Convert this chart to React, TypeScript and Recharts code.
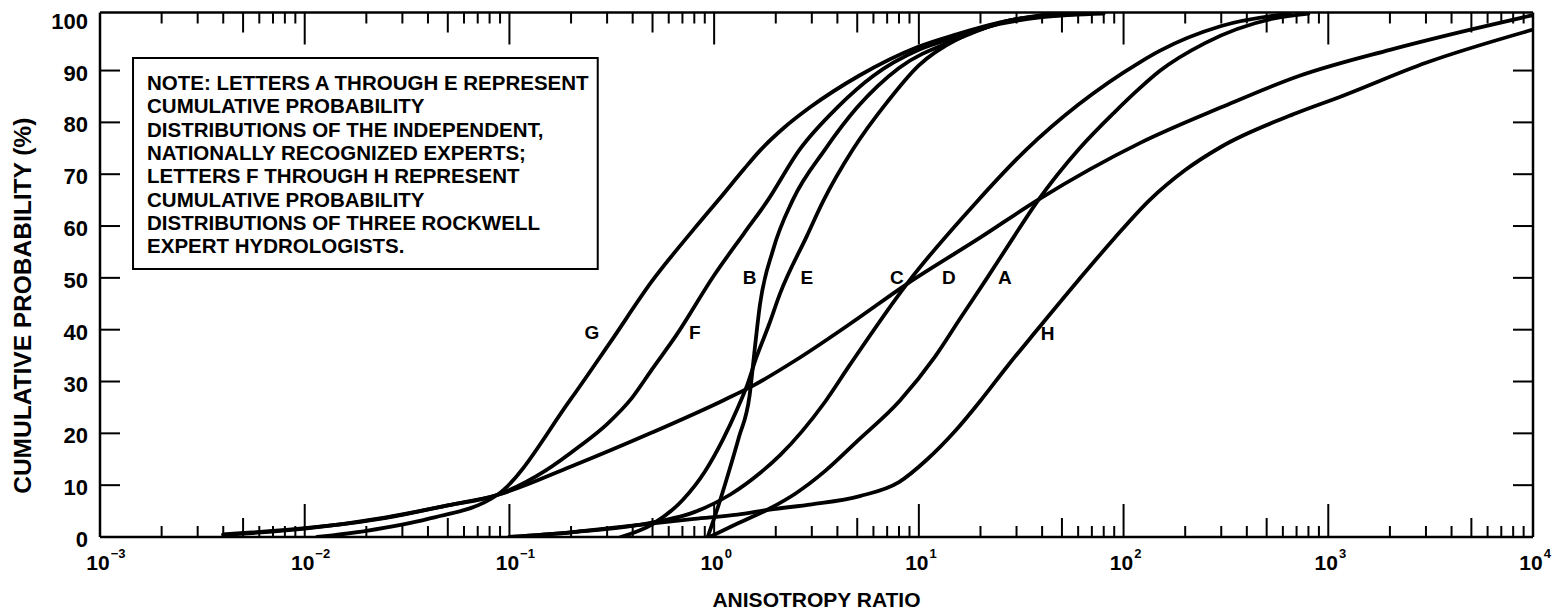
import React from "react";
import {
  LineChart,
  Line,
  XAxis,
  YAxis,
  ReferenceArea,
  ReferenceDot,
} from "recharts";

type Pt = [number, number];

// [anisotropy ratio, cumulative probability %]
const curveA: Pt[] = [
  [0.95, 0], [1.3, 2.6], [1.87, 5.5], [2.5, 8.4], [3.5, 12.8], [5, 18.5],
  [8.07, 26.3], [12, 34.8], [16, 42.3], [21.4, 49.8], [28, 56.9], [38, 64.8],
  [61, 75], [90, 81.9], [120, 86.6], [150, 89.9], [250, 95.3], [536, 100],
  [800, 101],
];
const curveB: Pt[] = [
  [0.93, 0], [1.05, 6.1], [1.18, 12.6], [1.32, 19.2], [1.49, 27.3],
  [1.58, 36.4], [1.67, 44.5], [1.94, 55.4], [2.42, 65], [3.47, 74.7],
  [5, 82.9], [8, 90.5], [15.3, 96], [30, 99.9], [70, 101],
];
const curveC: Pt[] = [
  [0.1, 0], [0.2, 0.9], [0.42, 2.3], [0.8, 4.8], [1.2, 8.2], [1.67, 12.3],
  [2.1, 15.8], [3.47, 26], [4.6, 33.2], [8.8, 49], [19.2, 64.7],
  [33.6, 74.8], [60, 83.4], [120, 91.6], [150, 93.8], [300, 98.6], [650, 101],
];
const curveD: Pt[] = [
  [0.004, 0.5], [0.01, 1.7], [0.025, 3.7], [0.05, 6.1], [0.087, 8.1],
  [0.2, 13.6], [0.5, 20.2], [1.1, 26.3], [1.55, 29.2], [2.5, 34.1],
  [4.6, 41.1], [8.8, 48.9], [20, 57.8], [38, 65], [120, 76], [300, 82.9],
  [724, 89], [2000, 94], [5070, 98], [10000, 100.7],
];
const curveE: Pt[] = [
  [0.35, 0], [0.5, 2.5], [0.7, 7.1], [0.9, 12.6], [1.1, 18.7], [1.3, 24.8],
  [1.45, 29.3], [1.6, 34.4], [1.85, 40.9], [2.1, 47], [2.84, 58.1],
  [3.4, 64.7], [4.75, 74.7], [7, 83.9], [10, 91], [15.3, 96], [40, 100.3],
  [80, 101],
];
const curveF: Pt[] = [
  [0.004, 0.4], [0.01, 1.6], [0.025, 3.8], [0.05, 6.1], [0.087, 8.1],
  [0.15, 12.8], [0.22, 17.5], [0.3, 21.8], [0.396, 26.8], [0.5, 32.5],
  [0.65, 38.8], [1.0, 50.5], [1.4, 58.6], [1.81, 64.7], [2.62, 74.8],
  [4, 82.9], [6, 89], [10, 94], [15.3, 96.4], [30, 99.9], [60, 101],
];
const curveG: Pt[] = [
  [0.0115, 0], [0.02, 1.2], [0.04, 3.5], [0.087, 8.1],
  [0.197, 26.3], [0.31, 37.5], [0.5, 49.5], [0.8, 59.5], [1.1, 66],
  [1.4, 71], [1.67, 74.5], [2.2, 79], [2.94, 82.9], [5.1, 89], [9.8, 94.5],
  [15.3, 97], [25, 99.3], [45, 101],
];
const curveH: Pt[] = [
  [0.1, 0], [0.2, 0.9], [0.42, 2.3], [0.8, 3.5], [1.3, 4.3], [1.87, 5.3],
  [3, 6.3], [5.15, 7.9], [8, 10.6], [11, 15], [15, 20.4], [20, 26.3],
  [27, 32.9], [36.8, 39.4], [60, 49.5], [90, 57.6], [134, 65], [200, 70.8],
  [300, 75.3], [700, 81.8], [1138, 84.9], [3000, 91.5], [10000, 97.9],
];

const series = [
  { name: "A", pts: curveA },
  { name: "B", pts: curveB },
  { name: "C", pts: curveC },
  { name: "D", pts: curveD },
  { name: "E", pts: curveE },
  { name: "F", pts: curveF },
  { name: "G", pts: curveG },
  { name: "H", pts: curveH },
];

// where each letter sits (data coords)
const curveLabels = [
  { name: "G", x: 0.253, y: 39.6 },
  { name: "F", x: 0.805, y: 39.6 },
  { name: "B", x: 1.49, y: 50.2 },
  { name: "E", x: 2.84, y: 50.2 },
  { name: "C", x: 7.8, y: 50.2 },
  { name: "D", x: 14.0, y: 50.2 },
  { name: "A", x: 26.3, y: 50.2 },
  { name: "H", x: 42.6, y: 39.4 },
];

const decadeExps = [-3, -2, -1, 0, 1, 2, 3, 4];
const minorSteps = [2, 3, 4, 5, 6, 7, 8, 9];
const xTicks = decadeExps.flatMap((e) =>
  e < 4
    ? [Math.pow(10, e), ...minorSteps.map((m) => m * Math.pow(10, e))]
    : [Math.pow(10, e)]
);
const yTicks = [0, 10, 20, 30, 40, 50, 60, 70, 80, 90, 100];

const noteLines = [
  "NOTE: LETTERS A THROUGH E REPRESENT",
  "CUMULATIVE PROBABILITY",
  "DISTRIBUTIONS OF THE INDEPENDENT,",
  "NATIONALLY RECOGNIZED EXPERTS;",
  "LETTERS F THROUGH H REPRESENT",
  "CUMULATIVE PROBABILITY",
  "DISTRIBUTIONS OF THREE ROCKWELL",
  "EXPERT HYDROLOGISTS.",
];

const FONT = "'Liberation Sans', Arial, Helvetica, sans-serif";
const X_DOMAIN: [number, number] = [0.001, 10000];
const Y_DOMAIN: [number, number] = [0, 101.2];

function splitTick(v: number) {
  const e = Math.floor(Math.log10(v) + 1e-9);
  const m = Math.round(v / Math.pow(10, e));
  return { e, m };
}

const BottomTick = (props: any) => {
  const { x, y, payload } = props;
  const { e, m } = splitTick(payload.value);
  const len = m === 1 ? 33 : m === 5 ? 19 : 11;
  const onEdge = m === 1 && (e === -3 || e === 4);
  return (
    <g>
      {!onEdge && (
        <line x1={x} x2={x} y1={y} y2={y - len} stroke="#000" strokeWidth={2} />
      )}
      {m === 1 && (
        <text
          x={x - 13.7}
          y={y + 33}
          fontFamily={FONT}
          fontWeight="bold"
          fontSize={21}
          fill="#000"
        >
          10
          <tspan dx={1} dy={-12} fontSize={13}>
            {e < 0 ? "\u2212" + -e : String(e)}
          </tspan>
        </text>
      )}
    </g>
  );
};

const TopTick = (props: any) => {
  const { x, y, payload } = props;
  const { e, m } = splitTick(payload.value);
  const len = m === 1 ? 32 : m === 5 ? 20 : 11;
  if (m === 1 && (e === -3 || e === 4)) return <g />;
  return <line x1={x} x2={x} y1={y} y2={y + len} stroke="#000" strokeWidth={2} />;
};

const LeftTick = (props: any) => {
  const { x, y, payload } = props;
  const v = payload.value;
  return (
    <g>
      {v > 0 && v < 100 && (
        <line x1={x} x2={x + 20} y1={y} y2={y} stroke="#000" strokeWidth={2} />
      )}
      <text
        x={x - 12}
        y={y + 10}
        textAnchor="end"
        fontFamily={FONT}
        fontWeight="bold"
        fontSize={22}
        fill="#000"
      >
        {v}
      </text>
    </g>
  );
};

const RightTick = (props: any) => {
  const { x, y, payload } = props;
  const v = payload.value;
  if (v <= 0 || v >= 100) return <g />;
  return <line x1={x} x2={x - 20} y1={y} y2={y} stroke="#000" strokeWidth={2} />;
};

const YTitle = (props: any) => {
  const vb = props.viewBox || { x: 0, y: 12.5, width: 100, height: 524.5 };
  const cx = vb.x + 22;
  const cy = vb.y + vb.height / 2 + 31;
  return (
    <text
      x={cx}
      y={cy}
      transform={`rotate(-90, ${cx}, ${cy})`}
      textAnchor="middle"
      dominantBaseline="central"
      fontFamily={FONT}
      fontWeight="bold"
      fontSize={24.5}
      fill="#000"
    >
      CUMULATIVE PROBABILITY (%)
    </text>
  );
};

const XTitle = (props: any) => {
  const vb = props.viewBox || { x: 100, y: 537, width: 1433, height: 73 };
  return (
    <text
      x={vb.x + vb.width / 2}
      y={vb.y + vb.height - 3}
      textAnchor="middle"
      fontFamily={FONT}
      fontWeight="bold"
      fontSize={21}
      fill="#000"
    >
      ANISOTROPY RATIO
    </text>
  );
};

const NoteText = (props: any) => {
  const vb = props.viewBox || { x: 133, y: 58, width: 465, height: 211 };
  return (
    <text fontFamily={FONT} fontWeight="bold" fontSize={20.5} fill="#000">
      {noteLines.map((ln, i) => (
        <tspan key={i} x={vb.x + 14} y={vb.y + 32 + i * 23.3}>
          {ln}
        </tspan>
      ))}
    </text>
  );
};

export default function App() {
  return (
    <div
      style={{
        position: "absolute",
        left: 0,
        top: 0,
        width: 1558,
        height: 610,
        background: "#fff",
      }}
    >
      <LineChart
        width={1558}
        height={610}
        margin={{ top: 0, right: 0, bottom: 0, left: 0 }}
      >
        <XAxis
          dataKey="x"
          type="number"
          scale="log"
          domain={X_DOMAIN}
          allowDataOverflow
          ticks={xTicks}
          interval={0}
          height={73}
          tickSize={0}
          tickMargin={0}
          tickLine={false}
          axisLine={{ stroke: "#000", strokeWidth: 2.5 }}
          tick={<BottomTick />}
          label={(p: any) => <XTitle {...p} />}
        />
        <XAxis
          xAxisId="top"
          orientation="top"
          dataKey="x"
          type="number"
          scale="log"
          domain={X_DOMAIN}
          allowDataOverflow
          ticks={xTicks}
          interval={0}
          height={12.5}
          tickSize={0}
          tickMargin={0}
          tickLine={false}
          axisLine={{ stroke: "#000", strokeWidth: 2.5 }}
          tick={<TopTick />}
        />
        <YAxis
          type="number"
          domain={Y_DOMAIN}
          allowDataOverflow
          ticks={yTicks}
          interval={0}
          width={100}
          tickSize={0}
          tickMargin={0}
          tickLine={false}
          axisLine={{ stroke: "#000", strokeWidth: 2.5 }}
          tick={<LeftTick />}
          label={(p: any) => <YTitle {...p} />}
        />
        <YAxis
          yAxisId="right"
          orientation="right"
          type="number"
          domain={Y_DOMAIN}
          allowDataOverflow
          ticks={yTicks}
          interval={0}
          width={25}
          tickSize={0}
          tickMargin={0}
          tickLine={false}
          axisLine={{ stroke: "#000", strokeWidth: 2.5 }}
          tick={<RightTick />}
        />
        <ReferenceArea
          x1={0.00145}
          x2={0.27}
          y1={51.7}
          y2={92.4}
          fill="#fff"
          fillOpacity={1}
          stroke="#000"
          strokeWidth={2}
          ifOverflow="visible"
          label={(p: any) => <NoteText {...p} />}
        />
        {series.map((s) => (
          <Line
            key={s.name}
            name={s.name}
            data={s.pts.map(([x, y]) => ({ x, y }))}
            dataKey="y"
            type="monotone"
            stroke="#000"
            strokeWidth={3.8}
            strokeLinejoin="round"
            strokeLinecap="round"
            dot={false}
            activeDot={false}
            isAnimationActive={false}
          />
        ))}
        {curveLabels.map((l) => (
          <ReferenceDot
            key={l.name}
            x={l.x}
            y={l.y}
            r={1}
            ifOverflow="visible"
            shape={(p: any) => (
              <text
                x={p.cx}
                y={p.cy + 7}
                textAnchor="middle"
                fontFamily={FONT}
                fontWeight="bold"
                fontSize={19}
                fill="#000"
              >
                {l.name}
              </text>
            )}
          />
        ))}
      </LineChart>
    </div>
  );
}
